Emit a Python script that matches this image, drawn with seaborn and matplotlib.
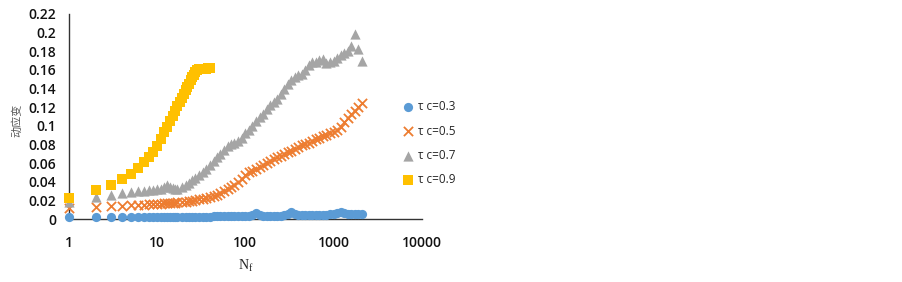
import matplotlib
matplotlib.use("Agg")
import matplotlib.pyplot as plt
import matplotlib.ticker as mticker
import seaborn as sns

# cycle numbers and dynamic strain
n_grid = [1, 2, 3, 4, 5, 6, 7, 8, 9, 10, 11, 12, 13, 14, 15, 16,
          17, 19, 21, 23, 25, 27, 30, 33, 36, 40, 44, 48, 52, 57, 63, 69, 75, 83, 91,
          100, 110, 120, 132, 145, 158, 174, 190, 209, 229, 251, 275, 302, 331, 363,
          398, 437, 479, 525, 575, 631, 692, 759, 832, 912,
          1000, 1096, 1202, 1318, 1445, 1585, 1738, 1905, 2089]

strain_03 = [0.002, 0.002, 0.002, 0.002, 0.002, 0.002, 0.002, 0.002, 0.002, 0.002,
             0.002, 0.002, 0.002, 0.002, 0.002, 0.002,
             0.002, 0.002, 0.002, 0.002, 0.002, 0.002, 0.002, 0.002, 0.002, 0.002,
             0.003, 0.003, 0.003, 0.003, 0.003, 0.003, 0.003, 0.003, 0.003,
             0.003, 0.003, 0.004, 0.006, 0.004, 0.003, 0.003, 0.003, 0.003, 0.003,
             0.003, 0.004, 0.005, 0.007, 0.005, 0.004, 0.004, 0.004, 0.004, 0.004,
             0.004, 0.004, 0.004, 0.004, 0.005,
             0.005, 0.006, 0.007, 0.006, 0.005, 0.005, 0.005, 0.005, 0.005]

strain_05 = [0.012, 0.013, 0.014, 0.014, 0.015, 0.015, 0.015, 0.016, 0.016, 0.016,
             0.016, 0.017, 0.017, 0.017, 0.017, 0.017,
             0.018, 0.018, 0.018, 0.019, 0.019, 0.020, 0.021, 0.021, 0.022, 0.024,
             0.025, 0.026, 0.028, 0.030, 0.032, 0.034, 0.037, 0.040, 0.043,
             0.047, 0.050, 0.052, 0.054, 0.056, 0.058, 0.060, 0.062, 0.064, 0.066,
             0.068, 0.070, 0.072, 0.073, 0.075, 0.077, 0.079, 0.080, 0.082, 0.084,
             0.086, 0.087, 0.089, 0.090, 0.092,
             0.093, 0.095, 0.099, 0.104, 0.108, 0.113, 0.116, 0.120, 0.124]

strain_07 = [0.018, 0.024, 0.026, 0.028, 0.029, 0.030, 0.030, 0.031, 0.031, 0.032,
             0.032, 0.034, 0.037, 0.034, 0.033, 0.032,
             0.032, 0.034, 0.037, 0.039, 0.042, 0.044, 0.047, 0.050, 0.054, 0.058,
             0.062, 0.066, 0.070, 0.074, 0.078, 0.080, 0.082, 0.084, 0.087,
             0.092, 0.096, 0.100, 0.105, 0.109, 0.113, 0.118, 0.122, 0.126, 0.129,
             0.134, 0.140, 0.145, 0.149, 0.152, 0.154, 0.156, 0.160, 0.165, 0.168,
             0.169, 0.171, 0.172, 0.167, 0.168,
             0.170, 0.173, 0.176, 0.178, 0.180, 0.186, 0.199, 0.182, 0.170]

n_09 = [1, 2, 3, 4, 5, 6, 7, 8, 9, 10, 11, 12, 13, 14, 15, 16, 17, 18, 19, 20,
        21, 22, 23, 24, 25, 26, 27, 28, 30, 32, 34, 36, 38, 40]
strain_09 = [0.023, 0.031, 0.037, 0.043, 0.048, 0.055, 0.061, 0.067, 0.072, 0.078,
             0.086, 0.093, 0.099, 0.105, 0.111, 0.116, 0.121, 0.126, 0.130, 0.134,
             0.138, 0.142, 0.145, 0.149, 0.152, 0.155, 0.158, 0.160, 0.161, 0.161,
             0.161, 0.161, 0.162, 0.162]

labels = ["τ c=0.3", "τ c=0.5", "τ c=0.7", "τ c=0.9"]
colors = ["#5B9BD5", "#ED7D31", "#A5A5A5", "#FFC000"]
y_ticks = [0, 0.02, 0.04, 0.06, 0.08, 0.1, 0.12, 0.14, 0.16, 0.18, 0.2, 0.22]
x_ticks = [1, 10, 100, 1000, 10000]

sns.set_style("white")
plt.rcParams["font.family"] = ["Open Sans", "DejaVu Sans", "Noto Sans CJK SC"]

fig = plt.figure(figsize=(9.03, 2.82), dpi=100)
ax = fig.add_axes([0.0764, 0.2234, 0.3906, 0.7270])

sns.scatterplot(x=n_grid, y=strain_03, marker="o", s=44, color=colors[0],
                linewidth=0, label=labels[0], ax=ax, clip_on=False, zorder=3)
sns.scatterplot(x=n_grid, y=strain_05, marker="x", s=44, color=colors[1],
                linewidth=1.3, label=labels[1], ax=ax, clip_on=False, zorder=3)
sns.scatterplot(x=n_grid, y=strain_07, marker="^", s=54, color=colors[2],
                linewidth=0, label=labels[2], ax=ax, clip_on=False, zorder=3)
sns.scatterplot(x=n_09, y=strain_09, marker="s", s=60, color=colors[3],
                linewidth=0, label=labels[3], ax=ax, clip_on=False, zorder=3)

ax.set_xscale("log")
ax.set_xlim(1, 10000)
ax.set_ylim(0, 0.22)
ax.set_yticks(y_ticks)
ax.yaxis.set_major_formatter(mticker.FuncFormatter(lambda v, p: f"{v:g}"))
ax.xaxis.set_major_locator(mticker.FixedLocator(x_ticks))
ax.xaxis.set_minor_locator(mticker.NullLocator())
ax.set_xticklabels([str(v) for v in x_ticks])

for side in ["top", "right"]:
    ax.spines[side].set_visible(False)
for side in ["left", "bottom"]:
    ax.spines[side].set_color("#333333")
    ax.spines[side].set_linewidth(1.0)
ax.tick_params(axis="y", direction="in", length=5, width=1.0, color="#333333",
               labelsize=10, pad=9)
ax.tick_params(axis="x", direction="in", length=5, width=1.0, color="#333333",
               labelsize=10, pad=12)
for lab in ax.get_xticklabels() + ax.get_yticklabels():
    lab.set_fontweight("semibold")
    lab.set_color("#111111")

ax.set_xlabel(r"$\mathregular{N_f}$", fontsize=10, family="Liberation Serif",
              labelpad=6)
fig.text(0.019, 0.575, "动应变", rotation=90, fontsize=8, color="#595959",
         family=["Noto Sans CJK SC"], ha="center", va="center")

ax.get_legend().remove()
handles, labs = ax.get_legend_handles_labels()
fig.legend(handles, labs, loc="upper left", bbox_to_anchor=(0.437, 0.665),
           frameon=False, fontsize=8.5, labelspacing=0.95, handletextpad=0.3,
           handlelength=1.2, borderpad=0)

fig.savefig("out.png", dpi=100)
